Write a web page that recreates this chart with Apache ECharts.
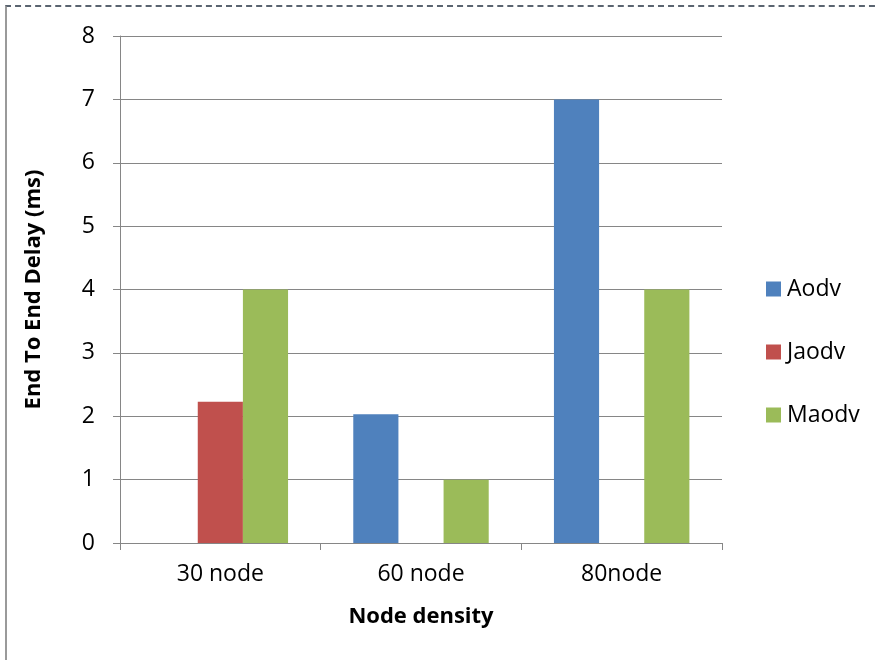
<!DOCTYPE html>
<html><head><meta charset="utf-8">
<script src="https://cdn.jsdelivr.net/npm/echarts@6/dist/echarts.min.js"></script>
<style>
html,body{margin:0;padding:0;background:#fff;}
#frame{position:absolute;left:5px;top:5px;width:880px;height:660px;border-top:2px dashed #5a6470;border-left:2px solid #9a9a9a;box-sizing:border-box;}
#c{position:absolute;left:0;top:0;width:877px;height:660px;}
</style></head>
<body>
<div id="frame"></div>
<div id="c"></div>
<script>
var categories = ['30 node', '60 node', '80node'];
var seriesNames = ['Aodv', 'Jaodv', 'Maodv'];
var aodv = [0, 2.03, 7];
var jaodv = [2.23, 0, 0];
var maodv = [4, 1, 4];
var colors = ['#4f81bd', '#c0504d', '#9bbb59'];
var font = '"Open Sans", "Noto Sans", sans-serif';

var chart = echarts.init(document.getElementById('c'), null, {renderer: 'canvas'});
var data = [aodv, jaodv, maodv];
chart.setOption({
  animation: false,
  textStyle: {fontFamily: font},
  grid: {left: 120, right: 155, top: 36, bottom: 117, containLabel: false},
  legend: {
    orient: 'vertical', left: 766, top: 277, padding: 0, itemWidth: 15, itemHeight: 15, itemGap: 39,
    icon: 'rect',
    textStyle: {fontSize: 23, color: '#000', fontFamily: font, lineHeight: 24, padding: [0,0,0,1]},
    data: seriesNames
  },
  xAxis: {
    type: 'category', data: categories,
    name: 'Node density', nameLocation: 'middle', nameGap: 63,
    nameTextStyle: {fontSize: 22, fontWeight: 'bold', color: '#000', fontFamily: font},
    axisLine: {lineStyle: {color: '#868686', width: 1}},
    axisTick: {show: true, alignWithLabel: false, length: 7, lineStyle: {color: '#868686'}},
    axisLabel: {fontSize: 23, color: '#000', margin: 20, fontFamily: font}
  },
  yAxis: {
    type: 'value', min: 0, max: 8, interval: 1,
    name: 'End To End Delay (ms)', nameLocation: 'middle', nameGap: 75,
    nameTextStyle: {fontSize: 22, fontWeight: 'bold', color: '#000', fontFamily: font},
    axisLine: {show: true, lineStyle: {color: '#868686', width: 1}},
    axisTick: {show: true, length: 7, lineStyle: {color: '#868686'}},
    axisLabel: {fontSize: 23, color: '#000', margin: 25, fontFamily: font},
    splitLine: {lineStyle: {color: '#868686', width: 1}}
  },
  series: seriesNames.map(function (n, i) {
    return {
      name: n, type: 'bar', data: data[i],
      barWidth: '22.5%', barGap: '0%', barCategoryGap: '32.5%',
      itemStyle: {color: colors[i]}
    };
  })
});
</script>
</body></html>
